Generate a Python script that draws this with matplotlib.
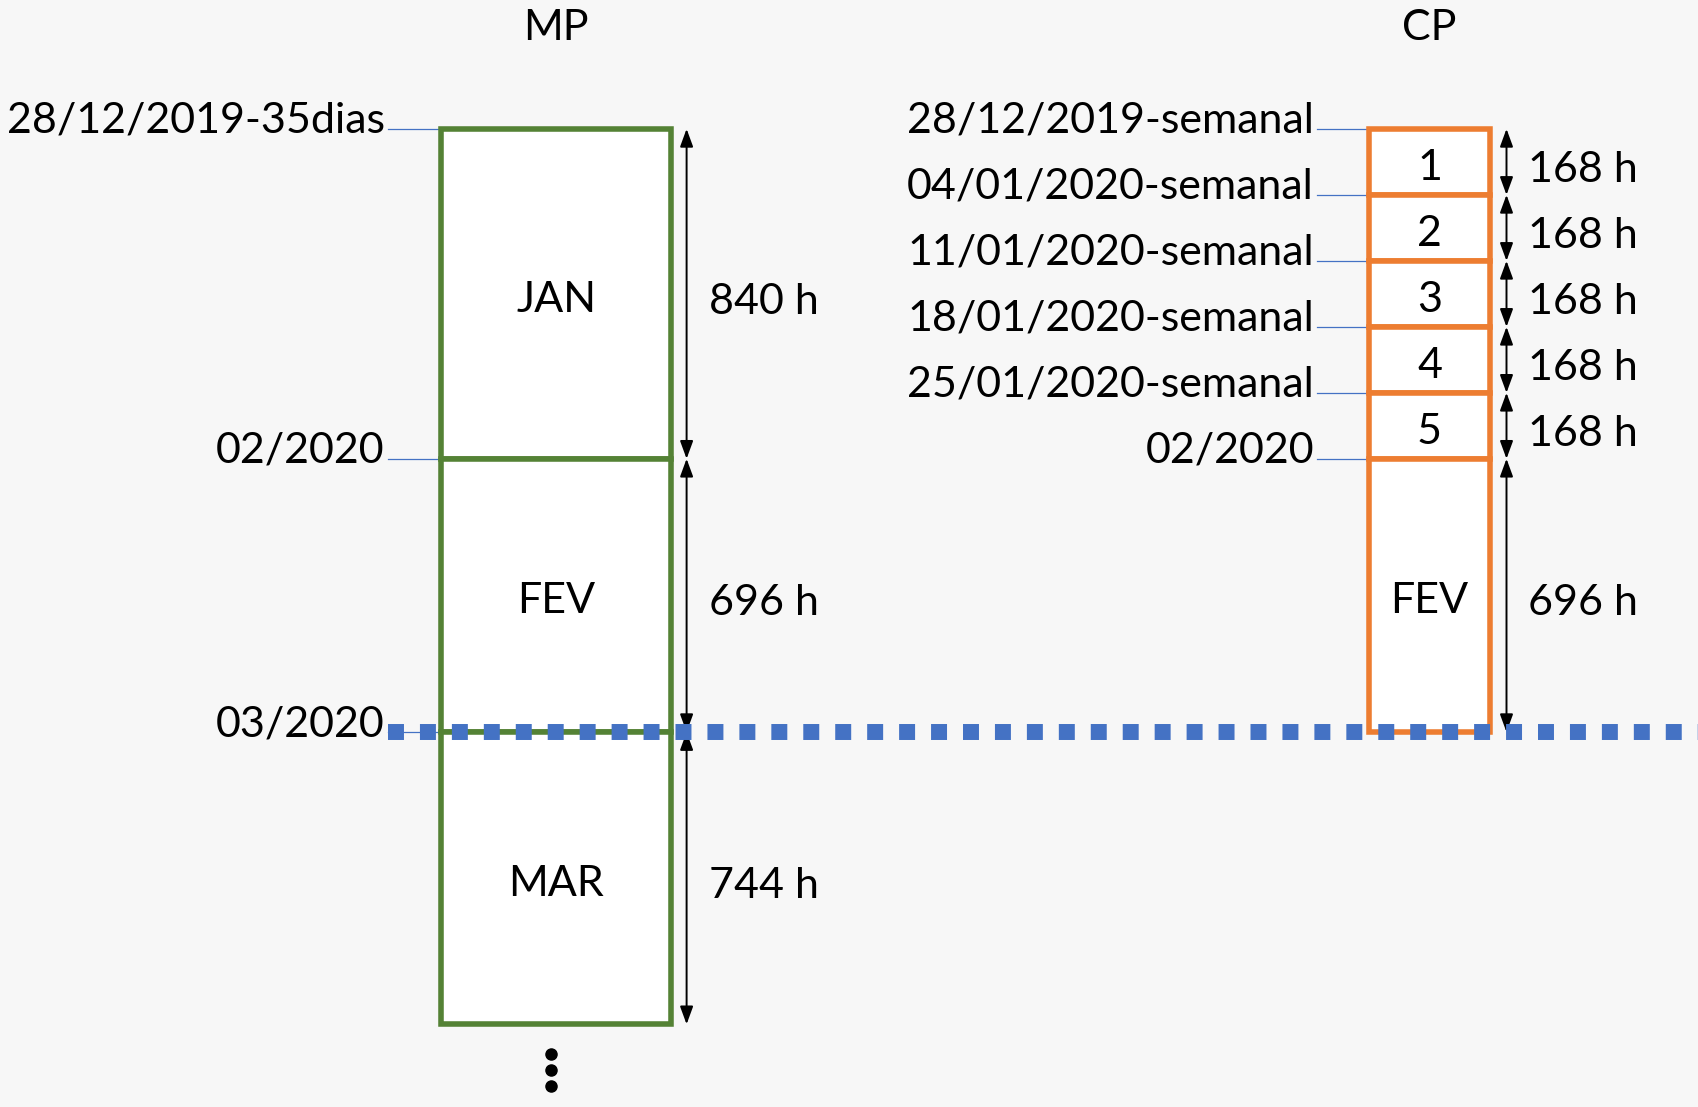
import matplotlib
matplotlib.use("Agg")
import matplotlib.pyplot as plt
from matplotlib.patches import Rectangle
from matplotlib.transforms import offset_copy
import numpy as np

# ---------------- data ----------------
mp_title = "MP"
mp_months = ["JAN", "FEV", "MAR"]
mp_hours = [840, 696, 744]
mp_start_labels = ["28/12/2019-35dias", "02/2020", "03/2020"]

cp_title = "CP"
cp_periods = ["1", "2", "3", "4", "5", "FEV"]
cp_hours = [168, 168, 168, 168, 168, 696]
cp_start_labels = ["28/12/2019-semanal", "04/01/2020-semanal", "11/01/2020-semanal",
                   "18/01/2020-semanal", "25/01/2020-semanal", "02/2020"]

# ---------------- style / layout ----------------
W, H = 1698, 1107
GREEN = "#548235"
ORANGE = "#ED7D31"
BLUE = "#4472C4"
BG = "#F7F7F7"
FONT = "Lato"
FS = 31

px_per_h = (732.1 - 128.9) / 1536.0
y_top = -128.9 / px_per_h
y_bot = y_top + H / px_per_h

fig = plt.figure(figsize=(W / 100, H / 100), dpi=100)
fig.patch.set_facecolor(BG)
ax = fig.add_axes([0, 0, 1, 1])
ax.set_xlim(0, W)
ax.set_ylim(y_bot, y_top)
ax.axis("off")
ax.set_facecolor(BG)

below = offset_copy(ax.transData, fig=fig, x=0, y=-4, units="dots")
mid_shift = offset_copy(ax.transData, fig=fig, x=0, y=-6, units="dots")
hr_shift = offset_copy(ax.transData, fig=fig, x=0, y=-8, units="dots")


def draw_column(names, hours, start_labels, x0, x1, color, arrow_x, lead_x0, title,
                hour_dx=22):
    bounds = np.concatenate([[0], np.cumsum(hours)])
    xc = (x0 + x1) / 2
    for i, (nm, h) in enumerate(zip(names, hours)):
        top, bot = bounds[i], bounds[i + 1]
        ax.add_patch(Rectangle((x0, top), x1 - x0, h, facecolor="white",
                               edgecolor=color, lw=4.0, zorder=2))
        ax.text(xc, (top + bot) / 2, nm, ha="center", va="center",
                fontsize=FS, family=FONT, zorder=3, transform=mid_shift)
        ax.annotate("", xy=(arrow_x, top), xytext=(arrow_x, bot),
                    arrowprops=dict(arrowstyle="<|-|>,head_length=0.6,head_width=0.22",
                                    color="black", lw=1.4, shrinkA=0, shrinkB=0,
                                    mutation_scale=18), zorder=3)
        ax.text(arrow_x + hour_dx, (top + bot) / 2, f"{h} h", ha="left", va="center",
                fontsize=FS, family=FONT, zorder=3, transform=hr_shift)
    for lab, b in zip(start_labels, bounds[:len(start_labels)]):
        ax.plot([lead_x0, x0], [b, b], color=BLUE, lw=0.9, zorder=1)
        ax.text(lead_x0 - 3, b, lab, ha="right", va="baseline", fontsize=FS,
                family=FONT, transform=below, zorder=3)
    ax.text(xc, y_top + 28 / px_per_h, title, ha="center", va="center",
            fontsize=FS, family=FONT)
    return bounds


mp_bounds = draw_column(mp_months, mp_hours, mp_start_labels, 441, 671.5, GREEN,
                        686.6, 387.7, mp_title)
cp_bounds = draw_column(cp_periods, cp_hours, cp_start_labels, 1369, 1490, ORANGE,
                        1506.5, 1317, cp_title)

# horizon line at start of 03/2020
cutoff = mp_bounds[2]
ax.plot([387.7, W], [cutoff, cutoff], color=BLUE, lw=11.5,
        linestyle=(0, (1.0, 1.0)), dash_capstyle="butt", zorder=5)

# continuation dots below MP column
for k in range(3):
    tr = offset_copy(ax.transData, fig=fig, x=0, y=-(30 + 16 * k), units="dots")
    ax.plot([551], [mp_bounds[-1]], "o", color="black", ms=8, transform=tr)

fig.savefig("out.png", dpi=100, facecolor=BG)
